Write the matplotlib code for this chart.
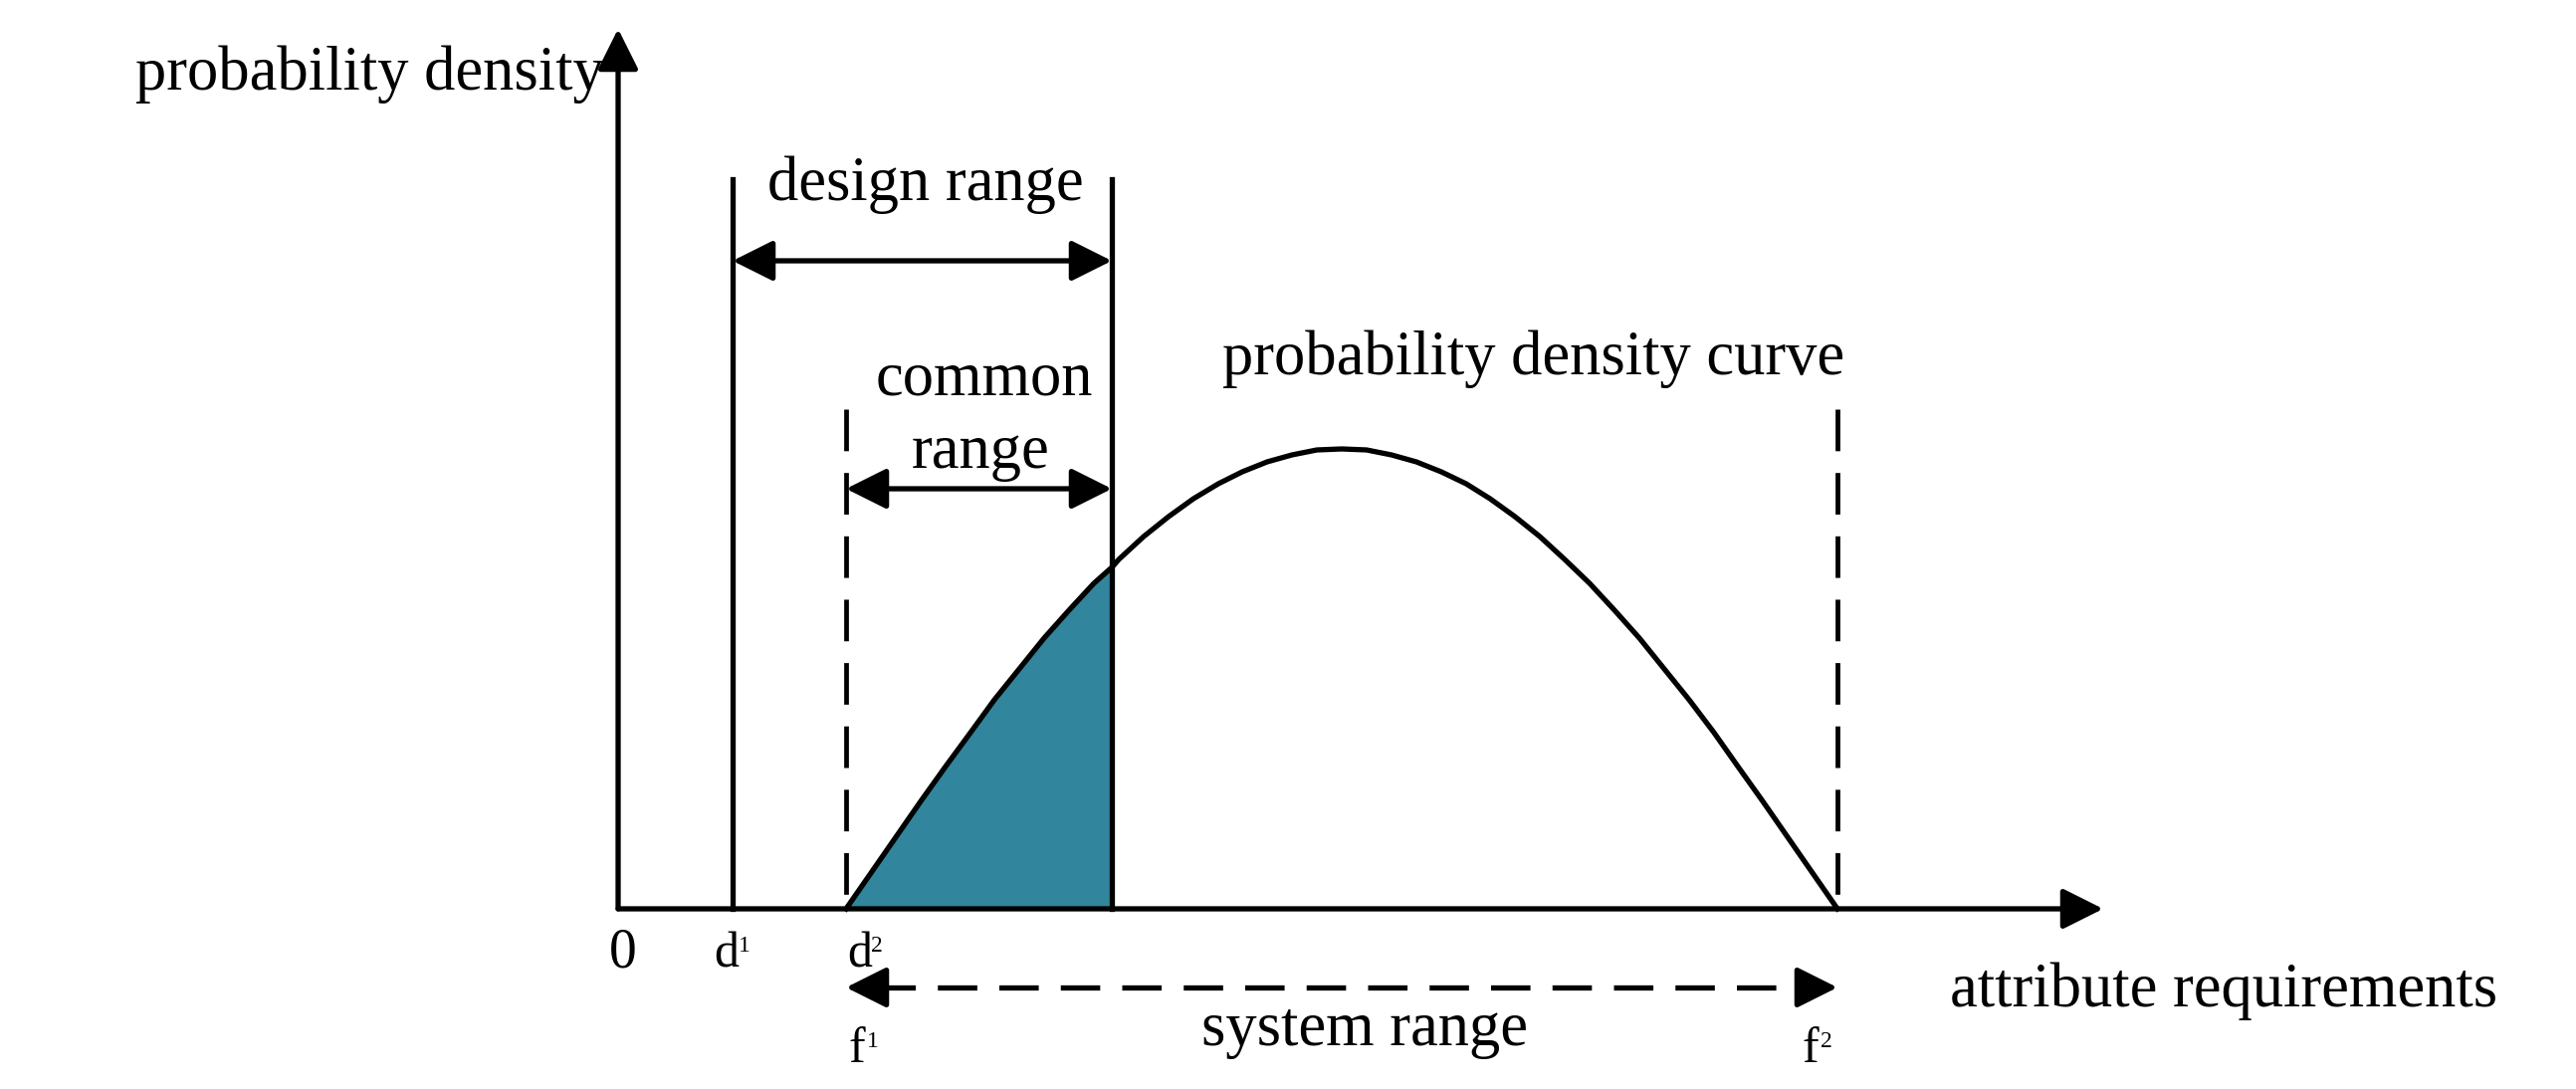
import matplotlib.pyplot as plt
from matplotlib.patches import FancyArrowPatch

# positions on the attribute axis (origin at 0)
d1 = 1.15
d2 = 2.29
design_hi = 4.96
f1 = 2.29
f2 = 12.25

# probability density curve
curve_x = [2.29, 2.54, 2.79, 3.04, 3.29, 3.54, 3.78, 4.03, 4.28, 4.53, 4.78,
           4.96, 5.03, 5.28, 5.53, 5.78, 6.03, 6.27, 6.52, 6.77, 7.02, 7.27,
           7.52, 7.77, 8.02, 8.27, 8.52, 8.76, 9.01, 9.26, 9.51, 9.76, 10.01,
           10.26, 10.51, 10.76, 11.01, 11.25, 11.50, 11.75, 12.00, 12.25]
curve_y = [0.0, 0.36, 0.72, 1.08, 1.43, 1.77, 2.10, 2.41, 2.72, 3.00, 3.27,
           3.43, 3.51, 3.74, 3.94, 4.12, 4.27, 4.39, 4.49, 4.56, 4.61, 4.62,
           4.61, 4.56, 4.49, 4.39, 4.27, 4.12, 3.94, 3.74, 3.51, 3.27, 3.00,
           2.72, 2.41, 2.10, 1.77, 1.43, 1.08, 0.72, 0.36, 0.0]

x_tip = 14.92     # end of the attribute axis arrow
y_tip = 8.84      # end of the density axis arrow
design_top = 7.33
dash_top = 5.02
design_arrow_y = 6.51
common_arrow_y = 4.22
system_arrow_y = -0.79

plt.rcParams['font.family'] = ['Liberation Serif', 'DejaVu Serif']
fs = 45
black = 'black'
teal = '#31859C'
lw = 3.8

fig = plt.figure(figsize=(25.88, 10.94), dpi=100)
ax = fig.add_axes([0, 0, 1, 1])
ax.set_xlim(-6.21, 19.67)
ax.set_ylim(-1.81, 9.13)
ax.axis('off')

def arrow(p0, p1, style):
    a = FancyArrowPatch(p0, p1, arrowstyle=style, mutation_scale=1,
                        color=black, lw=lw, shrinkA=0, shrinkB=0, zorder=4)
    ax.add_patch(a)

head = 'head_length=25,head_width=12.5'

# axes
arrow((0, 0), (0, y_tip), '-|>,' + head)
arrow((0, 0), (x_tip, 0), '-|>,' + head)

# shaded common part under the curve
fx = [x for x in curve_x if x <= design_hi]
fy = curve_y[:len(fx)]
ax.fill_between(fx, 0, fy, color=teal, lw=0, zorder=2)

# curve
ax.plot(curve_x, curve_y, color=black, lw=lw, solid_joinstyle='round', zorder=3)

# design range lines
ax.plot([d1, d1], [0, design_top], color=black, lw=lw)
ax.plot([design_hi, design_hi], [0, design_top], color=black, lw=lw, zorder=3)

# system range dashed lines
ax.plot([d2, d2], [dash_top, 0], color=black, lw=lw * 0.9, dashes=(8.8, 4.6))
ax.plot([f2, f2], [dash_top, 0], color=black, lw=lw * 0.9, dashes=(8.8, 4.6))

# range arrows
arrow((d1, design_arrow_y), (design_hi, design_arrow_y), '<|-|>,' + head)
arrow((d2, common_arrow_y), (design_hi, common_arrow_y), '<|-|>,' + head)

ax.plot([f1 + 0.3, f2 - 0.3], [system_arrow_y, system_arrow_y],
        color=black, lw=lw, dashes=(7.5, 4.2))
arrow((f1 + 0.35, system_arrow_y), (f1, system_arrow_y), '-|>,' + head)
arrow((f2 - 0.35, system_arrow_y), (f2, system_arrow_y), '-|>,' + head)

# texts
def txt(x, y, s, ha='left', size=fs):
    ax.text(x, y, s, ha=ha, va='baseline', fontsize=size, color=black)

txt(-0.14, 8.23, 'probability density', ha='right')
txt(3.09, 7.12, 'design range', ha='center')
txt(3.68, 5.17, 'common', ha='center')
txt(3.64, 4.43, 'range', ha='center')
txt(9.20, 5.37, 'probability density curve', ha='center')
txt(16.13, -0.98, 'attribute requirements', ha='center')
txt(7.50, -1.37, 'system range', ha='center')
txt(0.05, -0.58, '0', ha='center', size=40)

# labels with superscripts
def sup_label(x, y, base, sup, gap):
    txt(x, y, base, size=36)
    txt(x + gap, y + 0.15, sup, size=17)

sup_label(0.96, -0.58, 'd', '1', 0.25)
sup_label(2.30, -0.58, 'd', '2', 0.24)
sup_label(2.31, -1.54, 'f', '1', 0.19)
sup_label(11.89, -1.54, 'f', '2', 0.19)

fig.savefig('out.png', dpi=100)
